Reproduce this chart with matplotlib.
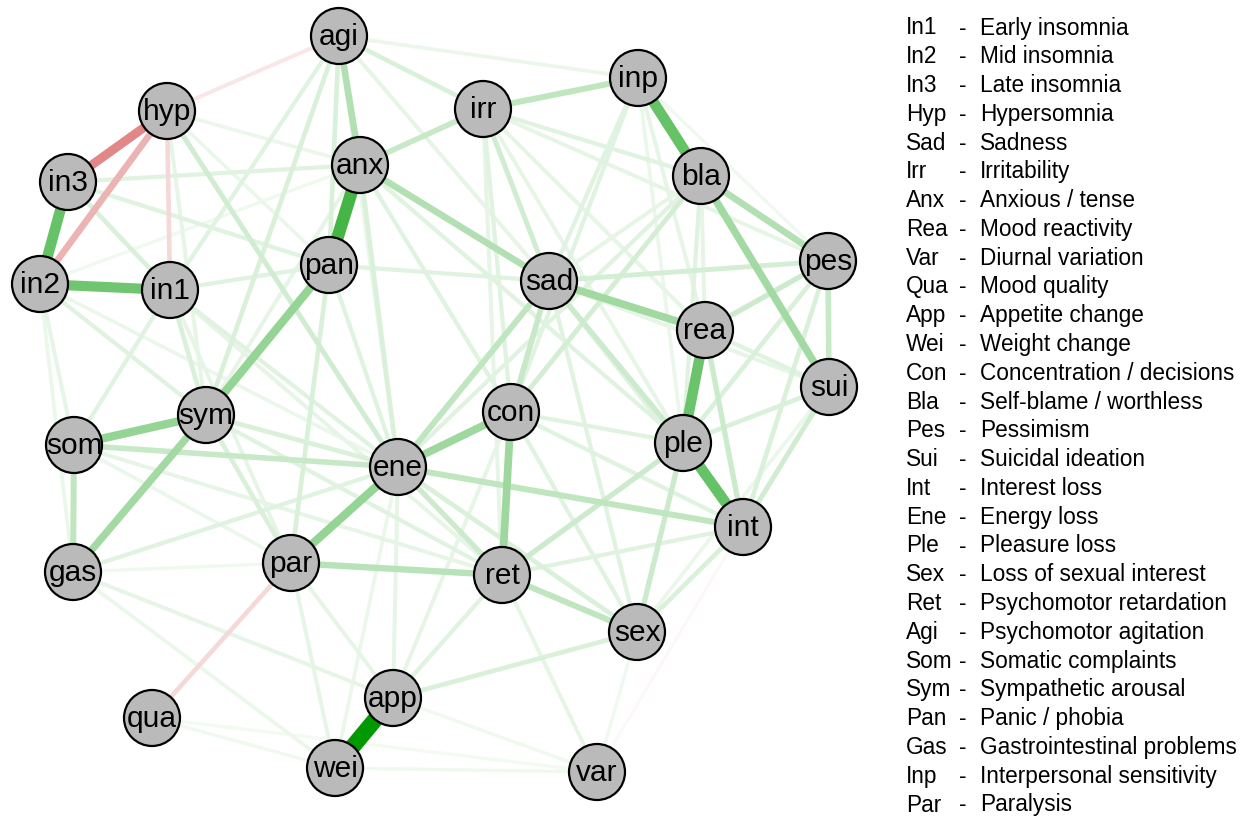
import matplotlib
matplotlib.use("Agg")
import matplotlib.pyplot as plt
from matplotlib.patches import Circle

plt.rcParams['font.family'] = ['Liberation Sans', 'DejaVu Sans']

# ---- data ----
nodes = ["agi", "hyp", "in3", "in2", "in1", "anx", "pan", "irr", "inp", "bla",
         "pes", "sad", "rea", "sui", "con", "ple", "int", "sym", "som", "ene",
         "gas", "par", "ret", "sex", "app", "qua", "wei", "var"]
node_x = [339, 167, 68, 40, 170, 360, 329, 483, 638, 701,
          828, 549, 705, 829, 511, 683, 743, 206, 74, 398,
          73, 291, 502, 637, 393, 152, 335, 597]
node_y = [36, 111, 182, 284, 290, 165, 265, 109, 78, 176,
          261, 281, 330, 387, 412, 443, 527, 415, 445, 467,
          572, 563, 575, 632, 698, 718, 768, 772]

edge_from = ["app", "anx", "inp", "ple", "rea", "in3", "in2", "hyp", "hyp", "hyp",
             "agi", "par", "pan", "som", "sym", "ene", "ene", "con", "sad", "bla",
             "bla", "anx", "agi", "irr", "par", "ene", "som", "ret", "sad", "sad",
             "sad", "pes", "pes", "pes", "ple", "ret", "bla", "rea", "sui", "sui",
             "som", "irr", "irr", "agi", "agi", "agi", "agi", "agi", "hyp", "in1",
             "in1", "in1", "in2", "in2", "in3", "in3", "in3", "in2", "anx", "anx",
             "anx", "anx", "pan", "pan", "pan", "sym", "sym", "sym", "som", "som",
             "gas", "gas", "gas", "par", "par", "ene", "ene", "ene", "ene", "con",
             "con", "con", "con", "ret", "ret", "ret", "sex", "sex", "sex", "sex",
             "app", "wei", "wei", "qua", "int", "sad", "sad", "inp", "inp", "inp",
             "inp", "inp", "inp", "inp", "bla", "bla", "bla", "bla", "pes", "pes",
             "pes", "rea", "rea", "sui", "in1", "in1", "hyp", "hyp", "hyp", "irr",
             "irr", "irr", "agi", "som", "in2", "gas", "irr", "anx"]
edge_to = ["wei", "pan", "bla", "int", "ple", "in2", "in1", "in3", "in2", "in1",
           "hyp", "qua", "sym", "sym", "gas", "par", "con", "ret", "rea", "sui",
           "pes", "sad", "anx", "inp", "ret", "int", "ene", "sex", "ene", "con",
           "ple", "sui", "rea", "sad", "sex", "ple", "con", "int", "int", "ple",
           "gas", "anx", "sad", "irr", "pan", "sym", "in1", "sad", "ene", "sym",
           "pan", "ene", "som", "sym", "in1", "anx", "pan", "gas", "ene", "ple",
           "sym", "con", "par", "ene", "sad", "ene", "par", "ret", "ret", "in1",
           "ene", "app", "wei", "app", "wei", "app", "ret", "sex", "wei", "app",
           "int", "sex", "ple", "app", "var", "int", "app", "int", "var", "sad",
           "var", "var", "qua", "var", "var", "sui", "int", "sad", "con", "rea",
           "ple", "agi", "sui", "pes", "sad", "ple", "rea", "ene", "ple", "int",
           "irr", "sui", "irr", "sex", "par", "ret", "sym", "pan", "anx", "bla",
           "con", "ple", "ene", "par", "ene", "par", "ret", "in2"]
edge_w = [1.00, 0.73, 0.60, 0.60, 0.58, 0.60, 0.56, -0.47, -0.30, -0.15,
          -0.10, -0.15, 0.42, 0.42, 0.36, 0.42, 0.38, 0.38, 0.37, 0.36,
          0.30, 0.30, 0.30, 0.25, 0.28, 0.25, 0.22, 0.25, 0.25, 0.22,
          0.20, 0.22, 0.20, 0.17, 0.20, 0.20, 0.17, 0.20, 0.18, 0.15,
          0.25, 0.22, 0.18, 0.15, 0.15, 0.15, 0.12, 0.10, 0.18, 0.15,
          0.12, 0.12, 0.10, 0.12, 0.15, 0.12, 0.12, 0.08, 0.15, 0.12,
          0.10, 0.12, 0.15, 0.12, 0.12, 0.15, 0.15, 0.12, 0.10, 0.12,
          0.12, 0.10, 0.08, 0.10, 0.10, 0.10, 0.20, 0.15, 0.08, 0.10,
          0.12, 0.12, 0.12, 0.12, 0.10, 0.12, 0.15, 0.15, 0.06, 0.12,
          0.06, 0.06, 0.06, 0.05, -0.03, 0.10, 0.12, 0.12, 0.12, 0.10,
          0.08, 0.08, 0.08, 0.06, 0.10, 0.12, 0.10, 0.12, 0.15, 0.15,
          0.10, 0.12, 0.10, 0.08, 0.10, 0.10, 0.10, 0.08, 0.08, 0.12,
          0.12, 0.10, 0.08, 0.08, 0.08, 0.06, 0.10, 0.06]

legend_abbr = ["In1", "In2", "In3", "Hyp", "Sad", "Irr", "Anx", "Rea", "Var", "Qua",
               "App", "Wei", "Con", "Bla", "Pes", "Sui", "Int", "Ene", "Ple", "Sex",
               "Ret", "Agi", "Som", "Sym", "Pan", "Gas", "Inp", "Par"]
legend_desc = ["Early insomnia", "Mid insomnia", "Late insomnia", "Hypersomnia",
               "Sadness", "Irritability", "Anxious / tense", "Mood reactivity",
               "Diurnal variation", "Mood quality", "Appetite change", "Weight change",
               "Concentration / decisions", "Self-blame / worthless", "Pessimism",
               "Suicidal ideation", "Interest loss", "Energy loss", "Pleasure loss",
               "Loss of sexual interest", "Psychomotor retardation",
               "Psychomotor agitation", "Somatic complaints", "Sympathetic arousal",
               "Panic / phobia", "Gastrointestinal problems",
               "Interpersonal sensitivity", "Paralysis"]

# ---- drawing ----
W, H = 1250, 818
fig = plt.figure(figsize=(W / 100, H / 100), dpi=100)
ax = fig.add_axes([0, 0, 1, 1])
ax.set_xlim(0, W)
ax.set_ylim(H, 0)
ax.axis("off")

px2pt = 72 / 100
pos = {n: (x, y) for n, x, y in zip(nodes, node_x, node_y)}
pos_col = (0 / 255, 153 / 255, 0 / 255)
neg_col = (191 / 255, 0, 0)

order = sorted(range(len(edge_w)), key=lambda i: abs(edge_w[i]))
for i in order:
    w = edge_w[i]
    a = abs(w)
    base = pos_col if w > 0 else neg_col
    col = tuple(1 - (1 - c) * a for c in base)
    (x1, y1), (x2, y2) = pos[edge_from[i]], pos[edge_to[i]]
    lw = (2.6 + 13.5 * a) * px2pt
    ax.plot([x1, x2], [y1, y2], color=col, lw=lw, solid_capstyle="butt", zorder=1)

R = 28
for n, x, y in zip(nodes, node_x, node_y):
    ax.add_patch(Circle((x, y), R, facecolor="#bababa", edgecolor="black",
                        lw=1.6, zorder=3))
    ax.text(x, y + 1, n, ha="center", va="center", fontsize=21.5, zorder=4)

y0, dy = 28, (805 - 28) / 27
for k, (ab, de) in enumerate(zip(legend_abbr, legend_desc)):
    yy = y0 + k * dy
    ax.text(906, yy, ab, ha="left", va="center", fontsize=16.3)
    ax.text(959, yy, "-", ha="left", va="center", fontsize=16.3)
    ax.text(980, yy, de, ha="left", va="center", fontsize=16.3)

fig.savefig("out.png", dpi=100)
